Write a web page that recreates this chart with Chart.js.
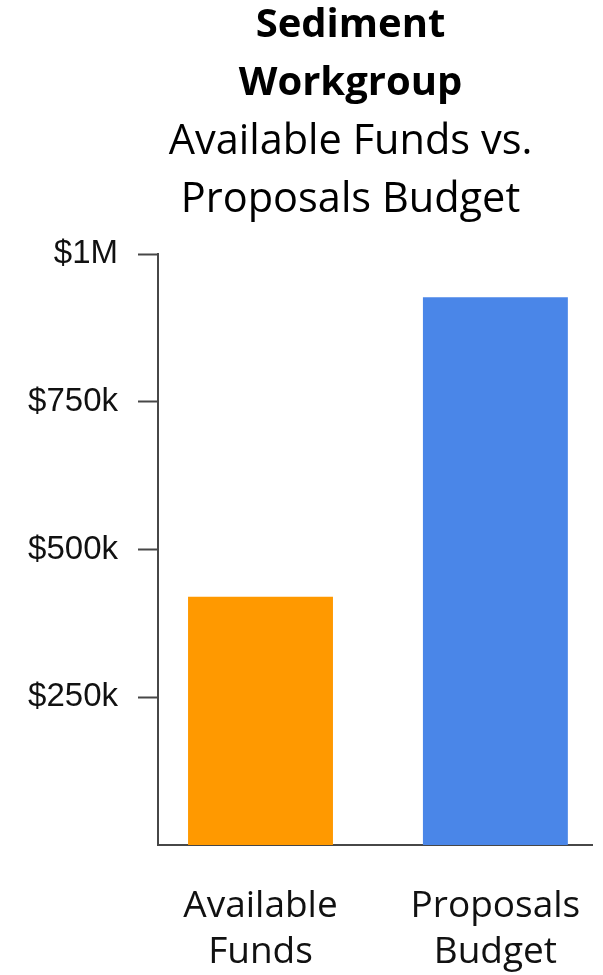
<!DOCTYPE html>
<html>
<head>
<meta charset="utf-8">
<script src="https://cdn.jsdelivr.net/npm/chart.js@4"></script>
<style>
  html, body { margin: 0; padding: 0; background: #fff; }
  #wrap { width: 603px; height: 975px; }
</style>
</head>
<body>
<div id="wrap"><canvas id="fundsChart" width="603" height="975"></canvas></div>
<script>
  // Chart data
  const categories = [['Available', 'Funds'], ['Proposals', 'Budget']];
  const amounts = [420000, 927000];
  const barColors = ['#FF9900', '#4A86E8'];
  const yTickValues = [250000, 500000, 750000, 1000000];
  const yTickLabels = ['$250k', '$500k', '$750k', '$1M'];

  const textFont = '"Open Sans", "DejaVu Sans", sans-serif';
  const axisColor = '#474747';

  // Centre the title lines over the plot rather than the whole canvas
  const titleShift = {
    id: 'titleShift',
    afterLayout(chart) {
      chart.boxes.forEach(b => {
        if (!b.axis && b.position === 'top') {
          b.left = chart.chartArea.left - 49;
          b.right = chart.chartArea.right;
        }
      });
    }
  };

  const ctx = document.getElementById('fundsChart').getContext('2d');

  new Chart(ctx, {
    type: 'bar',
    data: {
      datasets: [{
        data: amounts.map((v, i) => ({ x: i, y: v })),
        backgroundColor: barColors,
        borderWidth: 0,
        barPercentage: 0.617,
        categoryPercentage: 1
      }]
    },
    plugins: [titleShift],
    options: {
      responsive: false,
      animation: false,
      layout: {
        padding: { left: 0, right: 11, top: -3, bottom: 0 }
      },
      plugins: {
        legend: { display: false },
        tooltip: { enabled: false },
        title: {
          display: true,
          text: ['Sediment', 'Workgroup'],
          color: '#000',
          font: { family: textFont, size: 40, weight: 'bold', lineHeight: 1.45 },
          padding: { top: 0, bottom: 0 }
        },
        subtitle: {
          display: true,
          text: ['Available Funds vs.', 'Proposals Budget'],
          color: '#000',
          font: { family: textFont, size: 41.5, weight: 'normal', lineHeight: 1.4 },
          padding: { top: 0, bottom: 25 }
        }
      },
      scales: {
        x: {
          type: 'linear',
          offset: false,
          min: -0.4364,
          max: 1.4113,
          afterBuildTicks: (scale) => {
            scale.ticks = categories.map((_, i) => ({ value: i }));
          },
          afterFit: (scale) => {
            scale.paddingLeft = 0;
            scale.paddingRight = 0;
            scale.height = 130;
          },
          grid: { display: false },
          border: { display: true, color: axisColor, width: 2 },
          ticks: {
            autoSkip: false,
            maxRotation: 0,
            padding: 30,
            color: '#111',
            font: { family: textFont, size: 37, lineHeight: 1.25 },
            callback: (value) => categories[value]
          }
        },
        y: {
          min: 0,
          max: 1000000,
          afterBuildTicks: (scale) => {
            scale.ticks = yTickValues.map(v => ({ value: v }));
          },
          afterFit: (scale) => {
            scale.width = 158;
          },
          grid: {
            display: true,
            drawOnChartArea: false,
            drawTicks: true,
            tickLength: 20,
            tickColor: axisColor,
            tickWidth: 2
          },
          border: { display: true, color: axisColor, width: 2 },
          ticks: {
            padding: 20,
            color: '#111',
            font: { family: '"Liberation Sans", Arial, sans-serif', size: 33 },
            callback: (value) => yTickLabels[yTickValues.indexOf(value)]
          }
        }
      }
    }
  });
</script>
</body>
</html>
